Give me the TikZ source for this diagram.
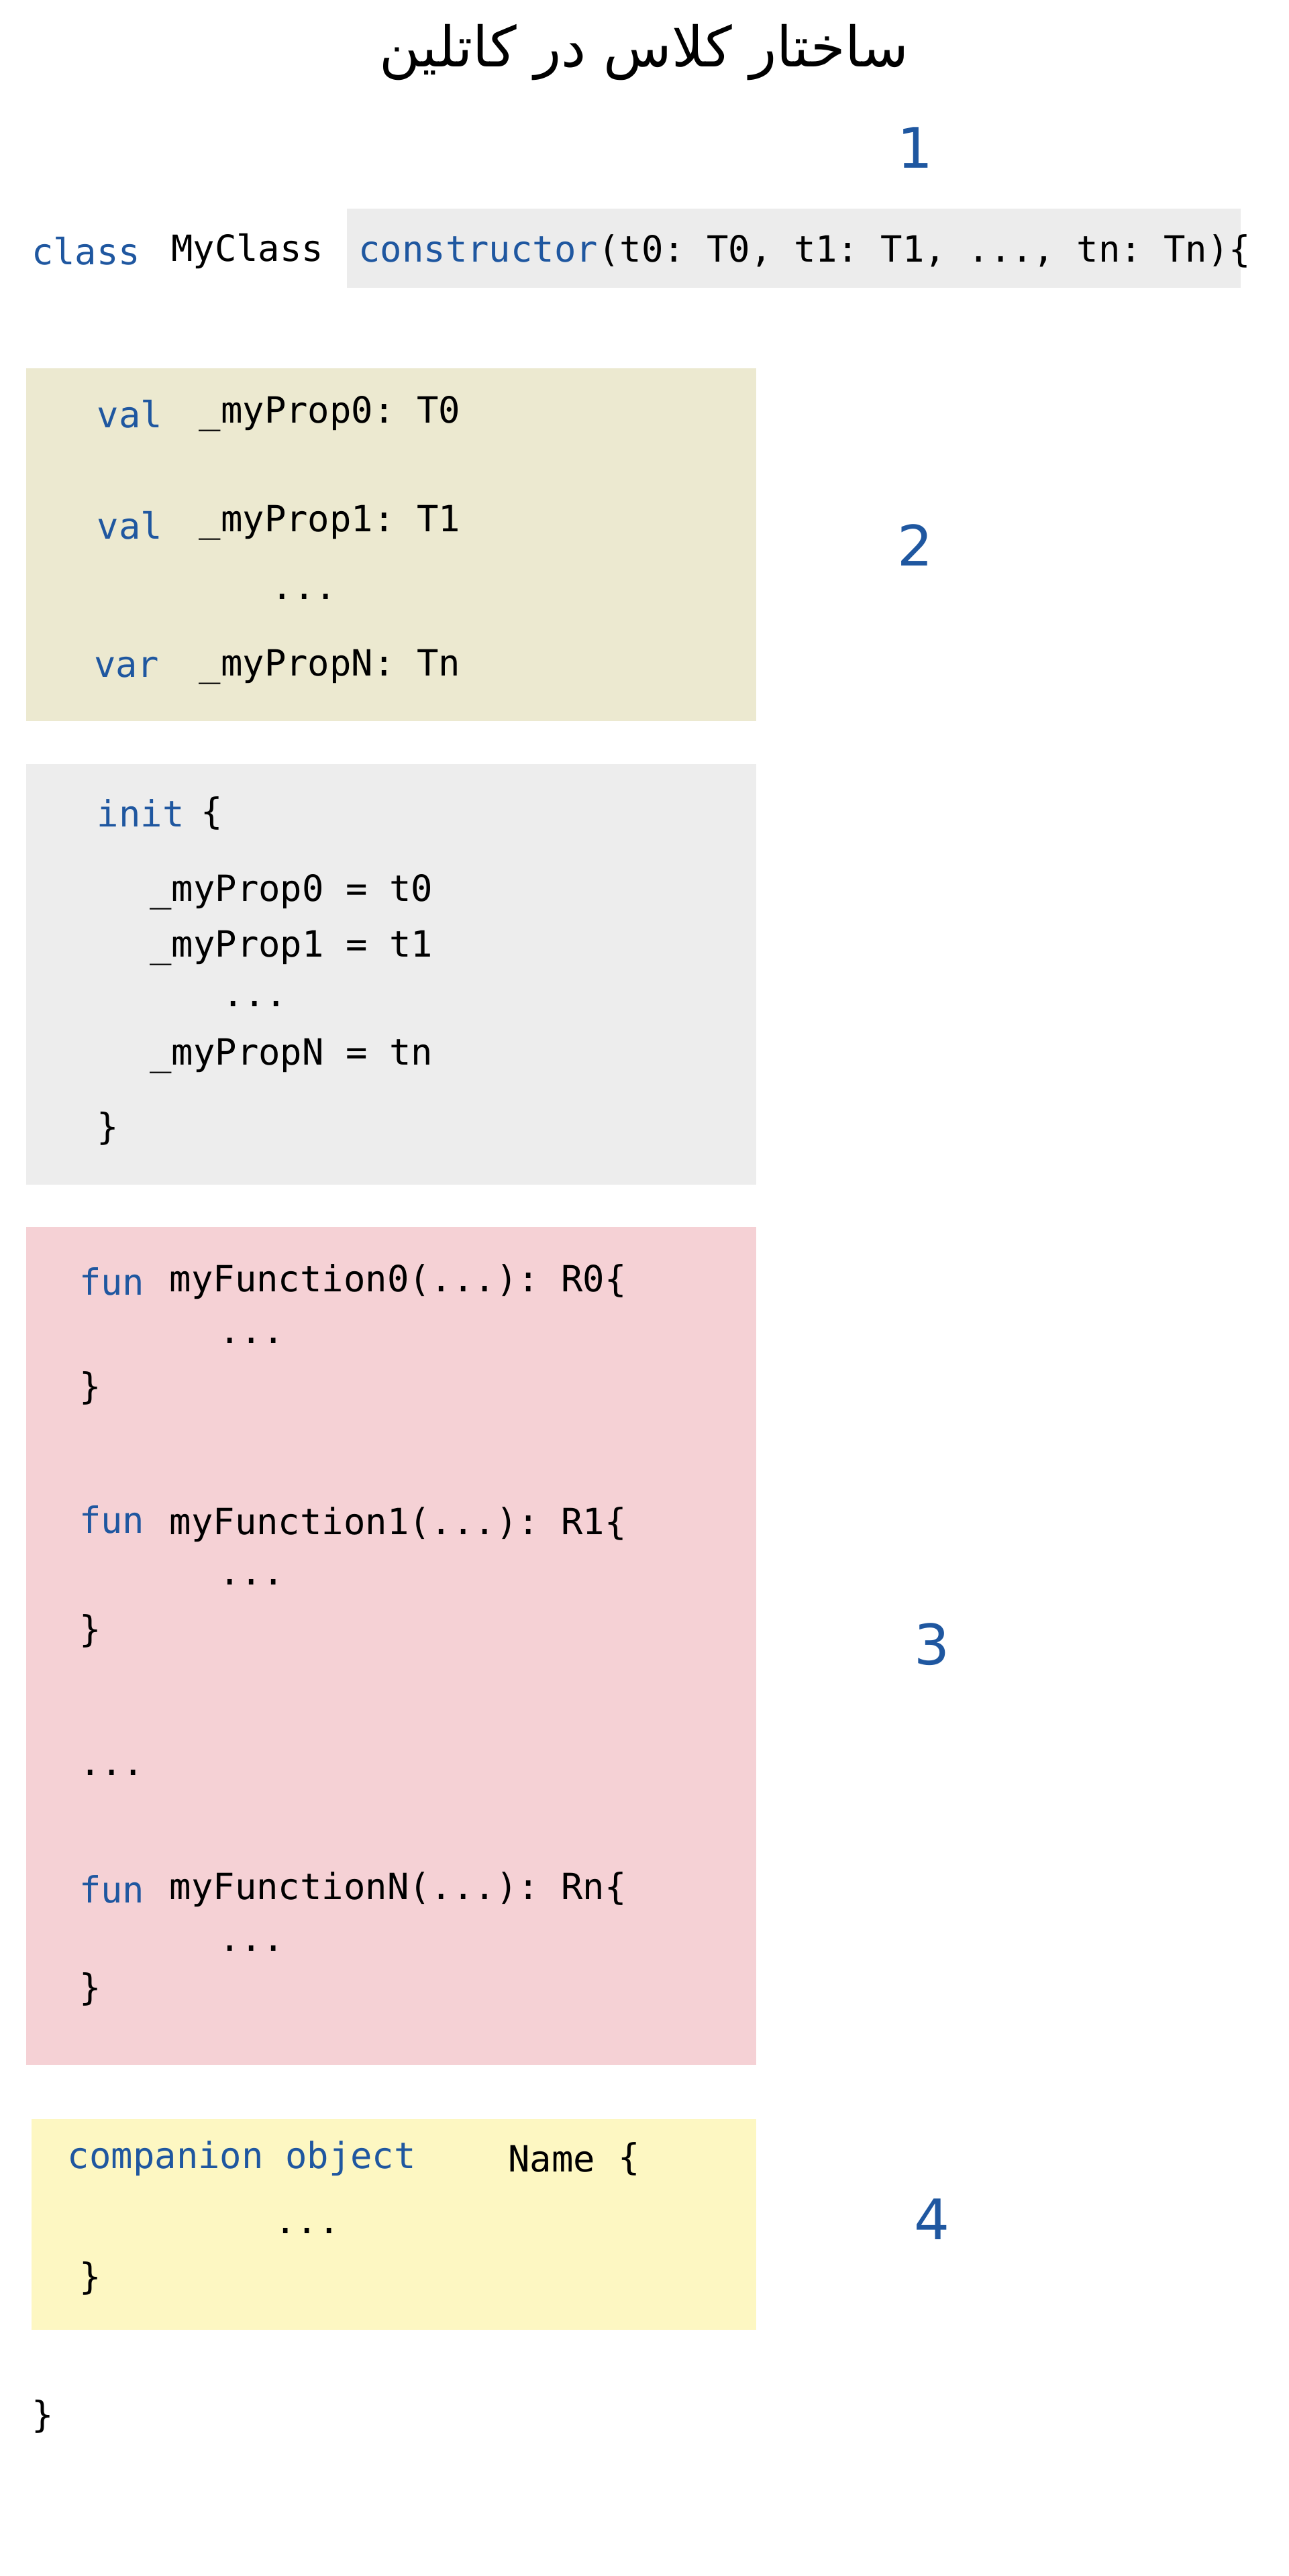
\documentclass[tikz,border=0pt]{standalone}
\usepackage{fontspec}
\setmonofont{DejaVu Sans Mono}
\newfontfamily\fafont{DejaVu Sans}[Script=Arabic]
\newfontfamily\numfont{DejaVu Sans}
\definecolor{kw}{HTML}{1F57A0}
\definecolor{cbg}{HTML}{ECECEC}
\definecolor{pbg}{HTML}{ECE9D0}
\definecolor{ibg}{HTML}{EDEDED}
\definecolor{fbg}{HTML}{F5D1D5}
\definecolor{ybg}{HTML}{FDF7C2}
\begin{document}
\TeXXeTstate=1
\begin{tikzpicture}[x=1pt,y=-1pt,
  t/.style={anchor=west,inner sep=0pt,font=\fontsize{22}{24}\selectfont\ttfamily},
  k/.style={t,text=kw},
  num/.style={inner sep=0pt,text=kw,font=\fontsize{34}{36}\selectfont\numfont}]
\useasboundingbox (0,0) rectangle (784,1568);
\fill[cbg] (211,127) rectangle (755,175);
\fill[pbg] (16,224) rectangle (460,439);
\fill[ibg] (16,465) rectangle (460,721);
\fill[fbg] (16,747) rectangle (460,1257);
\fill[ybg] (19,1290) rectangle (460,1418);
\node[inner sep=0pt,font=\fontsize{34}{36}\selectfont\fafont] (title) at (392,32) {\beginR ساختار کلاس در کاتلین\endR};
\node[num] (n1) at (557,90) {1};
\node[num] (n2) at (557,332) {2};
\node[num] (n3) at (567,1001) {3};
\node[num] (n4) at (567,1351) {4};
\node[k] (c1) at (19,153) {class};
\node[t] (c2) at (104,153) {MyClass};
\node[t] (c3) at (218,153) {\textcolor{kw}{constructor}(t0: T0, t1: T1, ..., tn: Tn)\{};
\node[k] (p0k) at (59,252) {val};
\node[t] (p0) at (121,252) {\_myProp0: T0};
\node[k] (p1k) at (59,320) {val};
\node[t] (p1) at (121,318) {\_myProp1: T1};
\node[t] (pd) at (165,363) {...};
\node[k] (pnk) at (57,406) {var};
\node[t] (pn) at (121,406) {\_myPropN: Tn};
\node[k] (ik) at (59,495) {init};
\node[t] (ib) at (122,495) {\{};
\node[t] (i0) at (91,543) {\_myProp0 = t0};
\node[t] (i1) at (91,577) {\_myProp1 = t1};
\node[t] (id) at (135,611) {...};
\node[t] (in) at (91,643) {\_myPropN = tn};
\node[t] (ie) at (59,687) {\}};
\node[k] (f0k) at (48,780) {fun};
\node[t] (f0) at (103,780) {myFunction0(...): R0\{};
\node[t] (f0d) at (133,816) {...};
\node[t] (f0e) at (48,845) {\}};
\node[k] (f1k) at (48,925) {fun};
\node[t] (f1) at (103,928) {myFunction1(...): R1\{};
\node[t] (f1d) at (133,963) {...};
\node[t] (f1e) at (48,993) {\}};
\node[t] (fd) at (48,1079) {...};
\node[k] (fnk) at (48,1150) {fun};
\node[t] (fn) at (103,1150) {myFunctionN(...): Rn\{};
\node[t] (fnd) at (133,1186) {...};
\node[t] (fne) at (48,1211) {\}};
\node[k] (ck) at (41,1314) {companion object};
\node[t] (cn) at (309,1314) {Name};
\node[t] (cb) at (376,1314) {\{};
\node[t] (cd) at (167,1358) {...};
\node[t] (ce) at (48,1387) {\}};
\node[t] (end) at (19,1471) {\}};
\end{tikzpicture}
\end{document}
